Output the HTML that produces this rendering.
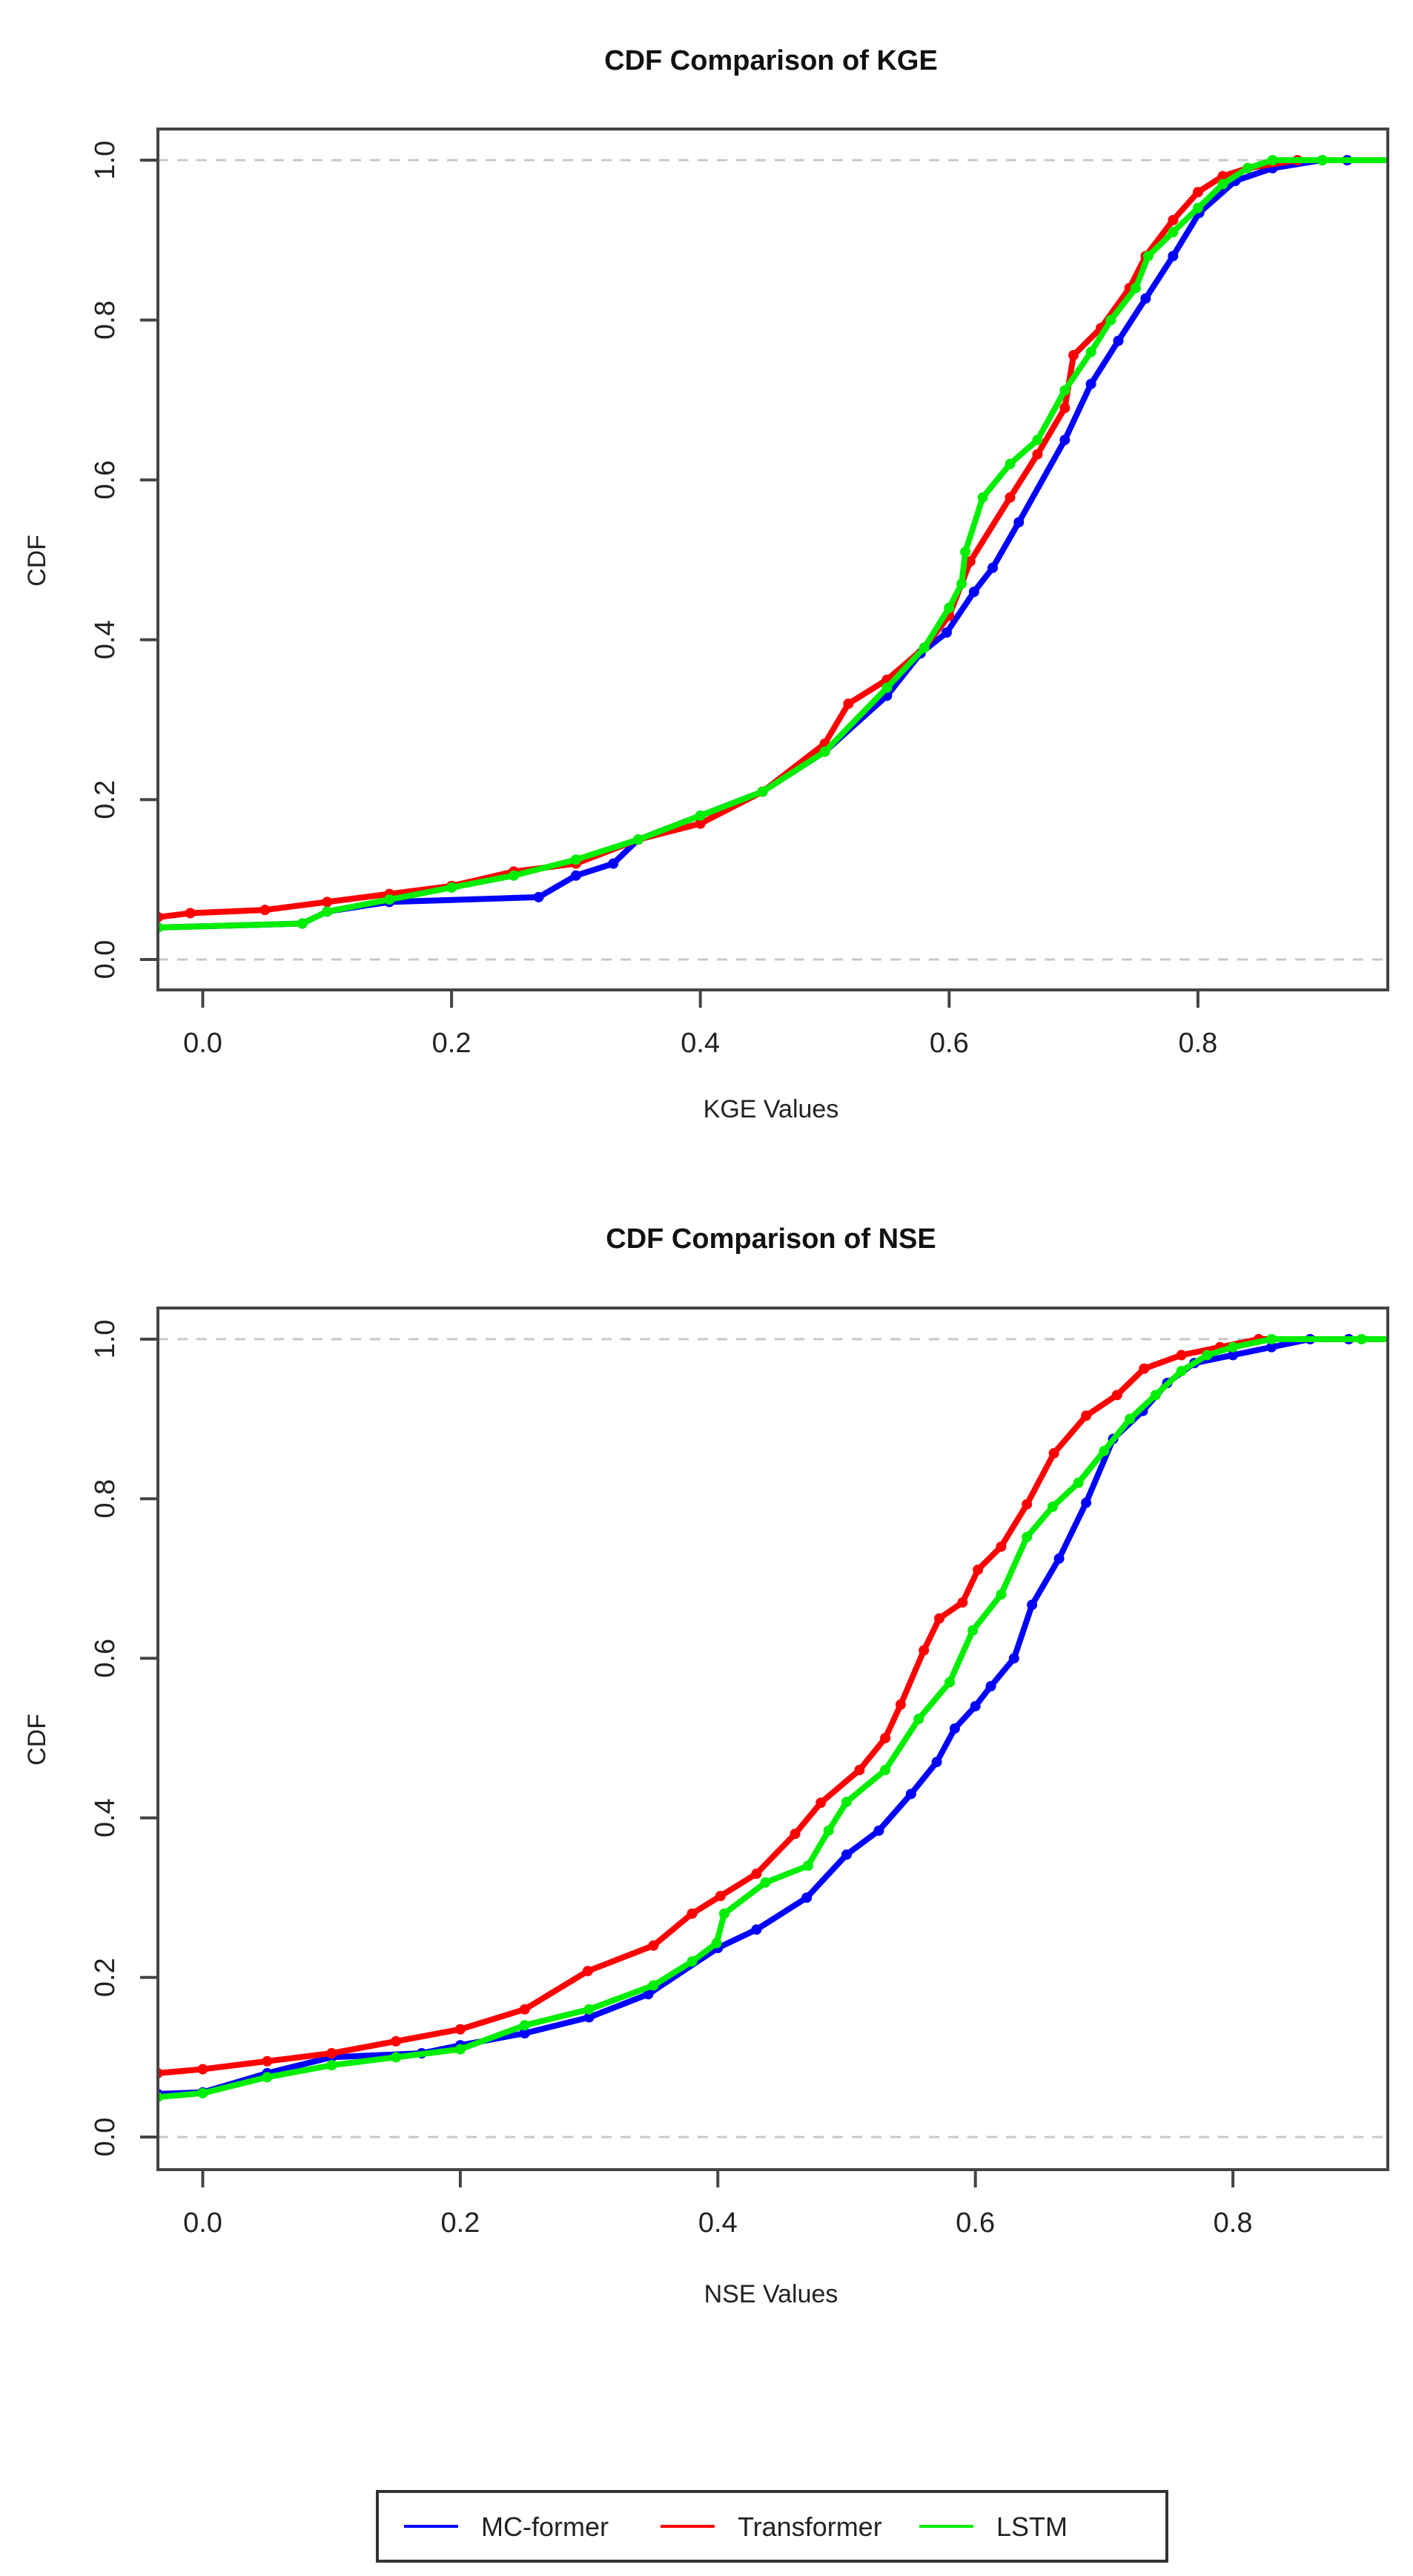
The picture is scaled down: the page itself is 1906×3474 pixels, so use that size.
<!DOCTYPE html>
<html><head><meta charset="utf-8"><style>
html,body{margin:0;padding:0;background:#fff;}
svg{display:block;font-family:"Liberation Sans",Arial,sans-serif;}
</style></head><body>
<svg id="fig" width="1906" height="3474" viewBox="0 0 1906 3474"></svg>
<script>
// ---- data ----
const kgeMC = [[-0.036,0.04],[0.08,0.045],[0.1,0.06],[0.15,0.072],[0.27,0.078],[0.30,0.105],[0.33,0.12],[0.35,0.15],[0.4,0.18],[0.45,0.21],[0.5,0.26],[0.55,0.33],[0.577,0.383],[0.598,0.409],[0.62,0.46],[0.635,0.49],[0.656,0.547],[0.693,0.65],[0.714,0.72],[0.736,0.774],[0.758,0.827],[0.78,0.88],[0.801,0.934],[0.83,0.974],[0.86,0.99],[0.9,1.0],[0.92,1.0]];
const kgeTr = [[-0.036,0.053],[-0.01,0.058],[0.05,0.062],[0.1,0.072],[0.15,0.082],[0.2,0.092],[0.25,0.11],[0.3,0.12],[0.35,0.15],[0.4,0.17],[0.45,0.21],[0.5,0.27],[0.519,0.32],[0.55,0.35],[0.58,0.39],[0.6,0.43],[0.617,0.498],[0.649,0.578],[0.671,0.632],[0.693,0.69],[0.70,0.756],[0.722,0.79],[0.745,0.84],[0.758,0.88],[0.78,0.925],[0.8,0.96],[0.82,0.98],[0.84,0.99],[0.88,1.0]];
const kgeLS = [[-0.036,0.04],[0.08,0.045],[0.1,0.06],[0.15,0.075],[0.2,0.09],[0.25,0.105],[0.3,0.125],[0.35,0.15],[0.4,0.18],[0.45,0.21],[0.5,0.26],[0.55,0.34],[0.58,0.39],[0.6,0.44],[0.61,0.47],[0.613,0.51],[0.627,0.578],[0.649,0.62],[0.671,0.65],[0.693,0.712],[0.714,0.76],[0.73,0.8],[0.75,0.84],[0.76,0.88],[0.78,0.91],[0.8,0.94],[0.82,0.97],[0.84,0.99],[0.86,1.0],[0.9,1.0]];
const nseMC = [[-0.035,0.054],[0.0,0.056],[0.05,0.08],[0.1,0.1],[0.17,0.105],[0.2,0.115],[0.25,0.13],[0.3,0.15],[0.346,0.179],[0.40,0.237],[0.43,0.26],[0.469,0.3],[0.50,0.354],[0.525,0.384],[0.55,0.43],[0.57,0.47],[0.584,0.512],[0.6,0.54],[0.612,0.565],[0.63,0.6],[0.644,0.667],[0.665,0.725],[0.686,0.795],[0.707,0.875],[0.73,0.91],[0.749,0.945],[0.77,0.97],[0.8,0.98],[0.83,0.99],[0.86,1.0],[0.89,1.0]];
const nseTr = [[-0.035,0.08],[0.0,0.085],[0.05,0.095],[0.1,0.105],[0.15,0.12],[0.2,0.135],[0.25,0.16],[0.299,0.208],[0.35,0.24],[0.38,0.28],[0.402,0.302],[0.43,0.33],[0.46,0.38],[0.48,0.419],[0.51,0.46],[0.53,0.5],[0.542,0.542],[0.56,0.61],[0.572,0.65],[0.59,0.67],[0.602,0.711],[0.62,0.74],[0.64,0.793],[0.661,0.857],[0.686,0.904],[0.71,0.93],[0.731,0.963],[0.76,0.98],[0.79,0.99],[0.82,1.0]];
const nseLS = [[-0.035,0.05],[0.0,0.055],[0.05,0.075],[0.1,0.09],[0.15,0.1],[0.2,0.11],[0.25,0.14],[0.3,0.16],[0.35,0.19],[0.38,0.22],[0.399,0.243],[0.405,0.28],[0.437,0.319],[0.47,0.34],[0.486,0.384],[0.5,0.42],[0.53,0.46],[0.556,0.524],[0.58,0.57],[0.598,0.635],[0.62,0.68],[0.64,0.752],[0.66,0.79],[0.68,0.82],[0.7,0.86],[0.72,0.9],[0.74,0.93],[0.76,0.96],[0.78,0.98],[0.8,0.99],[0.83,1.0],[0.9,1.0]];
const xTicks = [0.0,0.2,0.4,0.6,0.8];
const yTicks = [0.0,0.2,0.4,0.6,0.8,1.0];
const seriesNames = ["MC-former","Transformer","LSTM"];
const seriesColors = ["#0000ff","#ff0000","#00ee00"];

const NS="http://www.w3.org/2000/svg";
const svg=document.getElementById('fig');
function mk(tag,attrs,parent){const e=document.createElementNS(NS,tag);for(const k in attrs)e.setAttribute(k,attrs[k]);(parent||svg).appendChild(e);return e;}

function panel(cfg){
  const g=mk('g',{});
  
  
  const X=v=>cfg.x0+v*cfg.xs, Y=v=>cfg.y0-v*cfg.ys;
  const t=mk('text',{x:1040,y:cfg.titleY,'text-anchor':'middle','font-size':38,'font-weight':'bold',fill:'#111'},g);
  t.textContent=cfg.title;
  
  
  [0,1].forEach(v=>{
    const l=mk('line',{x1:cfg.L,x2:cfg.R,y1:Y(v),y2:Y(v),stroke:'#c8c8c8','stroke-width':3,'stroke-dasharray':'14 12'},g);
    
    
  });
  const data=[cfg.d0,cfg.d1,cfg.d2];
  data.forEach((d,i)=>{
    const sg=mk('g',{'clip-path':'url(#'+cfg.clip+')'},g);
    
    
    let p='M'+cfg.L+' '+Y(d[0][1]);
    d.forEach(pt=>{ p+=' L'+X(pt[0])+' '+Y(pt[1]); });
    p+=' L'+cfg.R+' '+Y(d[d.length-1][1]);
    mk('path',{d:p,fill:'none',stroke:seriesColors[i],'stroke-width':8,'stroke-linejoin':'round'},sg);
    d.forEach(pt=>{
      const c=mk('circle',{cx:X(pt[0]),cy:Y(pt[1]),r:7,fill:seriesColors[i]},sg);
      
      
    });
  });
  const box=mk('rect',{x:cfg.L,y:cfg.T,width:cfg.R-cfg.L,height:cfg.B-cfg.T,fill:'none',stroke:'#444','stroke-width':4},g);
  
  
  xTicks.forEach(v=>{
    mk('line',{x1:X(v),x2:X(v),y1:cfg.B,y2:cfg.B+24,stroke:'#444','stroke-width':4},g);
    const tt=mk('text',{x:X(v),y:cfg.B+84,'text-anchor':'middle','font-size':38,fill:'#222'},g);
    tt.textContent=v.toFixed(1);
    
    
  });
  yTicks.forEach(v=>{
    mk('line',{x1:cfg.L-24,x2:cfg.L,y1:Y(v),y2:Y(v),stroke:'#444','stroke-width':4},g);
    const tt=mk('text',{x:0,y:0,'text-anchor':'middle','font-size':38,fill:'#222',transform:'translate(154,'+Y(v)+') rotate(-90)'},g);
    tt.textContent=v.toFixed(1);
    
    
  });
  const xl=mk('text',{x:1040,y:cfg.xlabY,'text-anchor':'middle','font-size':34,fill:'#222'},g);
  xl.textContent=cfg.xlab;
  
  
  const yl=mk('text',{x:0,y:0,'text-anchor':'middle','font-size':34,fill:'#222',transform:'translate(61,'+cfg.ylabY+') rotate(-90)'},g);
  yl.textContent='CDF';
  
  
}
const defs=mk('defs',{});
const c1=mk('clipPath',{id:'c1'},defs);mk('rect',{x:213,y:174,width:1659,height:1161},c1);
const c2=mk('clipPath',{id:'c2'},defs);mk('rect',{x:213,y:1764,width:1659,height:1162},c2);

panel({name:'kge-cdf-chart',title:'CDF Comparison of KGE',titleY:94,L:213,R:1872,T:174,B:1335,x0:273.5,xs:1678,y0:1294,ys:1078,d0:kgeMC,d1:kgeTr,d2:kgeLS,clip:'c1',xlab:'KGE Values',xlabY:1507,ylabY:756});
panel({name:'nse-cdf-chart',title:'CDF Comparison of NSE',titleY:1683,L:213,R:1872,T:1764,B:2926,x0:273.5,xs:1737,y0:2882,ys:1076,d0:nseMC,d1:nseTr,d2:nseLS,clip:'c2',xlab:'NSE Values',xlabY:3105,ylabY:2346});

// legend
const lg=mk('g',{});


mk('rect',{x:509,y:3360,width:1065,height:94,fill:'#fff',stroke:'#333','stroke-width':4},lg);
const lx=[545,891,1240];
seriesNames.forEach((n,i)=>{
  const e=mk('g',{},lg);
  
  
  mk('line',{x1:lx[i],x2:lx[i]+73,y1:3407,y2:3407,stroke:seriesColors[i],'stroke-width':4},e);
  const t=mk('text',{x:lx[i]+104,y:3420,'font-size':36,fill:'#222'},e);
  t.textContent=n;
});
</script>
</body></html>
